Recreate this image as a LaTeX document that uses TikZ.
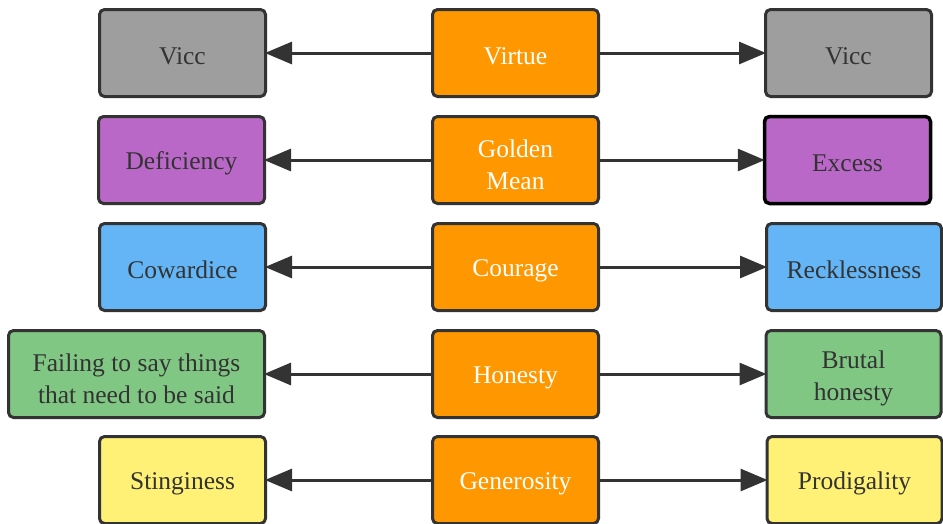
\documentclass[tikz,border=0pt]{standalone}
\usepackage{fontspec}
\setmainfont{Liberation Serif}
\usetikzlibrary{arrows.meta}
\definecolor{edgec}{HTML}{333333}
\definecolor{vicec}{HTML}{9E9E9E}
\definecolor{purplec}{HTML}{BA68C8}
\definecolor{bluec}{HTML}{64B5F6}
\definecolor{greenc}{HTML}{81C784}
\definecolor{yellowc}{HTML}{FFF176}
\definecolor{orangec}{HTML}{FF9800}
\definecolor{textc}{HTML}{333333}
\newcommand{\topstrut}{\rule{0pt}{26.5pt}}
\tikzset{
  box/.style={draw=edgec, line width=3pt, rounded corners=5pt, minimum height=87pt,
    minimum width=166pt, inner sep=2pt, align=center, text=textc,
    font=\fontsize{25.5}{32}\selectfont,
    execute at begin node={\rule{0pt}{24pt}}},
  midbox/.style={box, fill=orangec, text=white},
  widebox/.style={box, minimum width=175pt},
  link/.style={draw=edgec, line width=3pt, -{Triangle[length=27pt,width=22pt]}, shorten >=-2pt},
}
\begin{document}
\begin{tikzpicture}[x=1pt,y=-1pt]
\useasboundingbox (0,0) rectangle (943,523);
\clip (0,0) rectangle (943,523);
% row 1
\node[midbox] (m1) at (515.5,53) {Virtue};
\node[box, fill=vicec] (l1) at (182.5,53) {Vicc};
\node[box, fill=vicec] (r1) at (848.5,53) {Vicc};
% row 2
\node[midbox] (m2) at (515.5,160) {\topstrut Golden\\Mean};
\node[box, fill=purplec] (l2) at (181.5,160) {Deficiency};
\node[box, fill=purplec, draw=black, line width=3.5pt] (r2) at (847.5,160) {Excess};
% row 3
\node[midbox] (m3) at (515.5,267) {Courage};
\node[box, fill=bluec] (l3) at (182.5,267) {Cowardice};
\node[widebox, fill=bluec] (r3) at (854,267) {Recklessness};
% row 4
\node[midbox] (m4) at (515.5,374) {Honesty};
\node[box, fill=greenc, minimum width=256pt] (l4) at (136.5,374) {\topstrut Failing to say things\\that need to be said};
\node[widebox, fill=greenc] (r4) at (853.5,374) {\topstrut Brutal\\honesty};
% row 5
\node[midbox] (m5) at (515.5,480) {Generosity};
\node[box, fill=yellowc] (l5) at (182.5,480) {Stinginess};
\node[widebox, fill=yellowc] (r5) at (854.5,480) {Prodigality};
% connectors
\foreach \i in {1,...,5}{
  \draw[link] (m\i.west) -- (l\i.east);
  \draw[link] (m\i.east) -- (r\i.west);
}
\end{tikzpicture}
\end{document}
